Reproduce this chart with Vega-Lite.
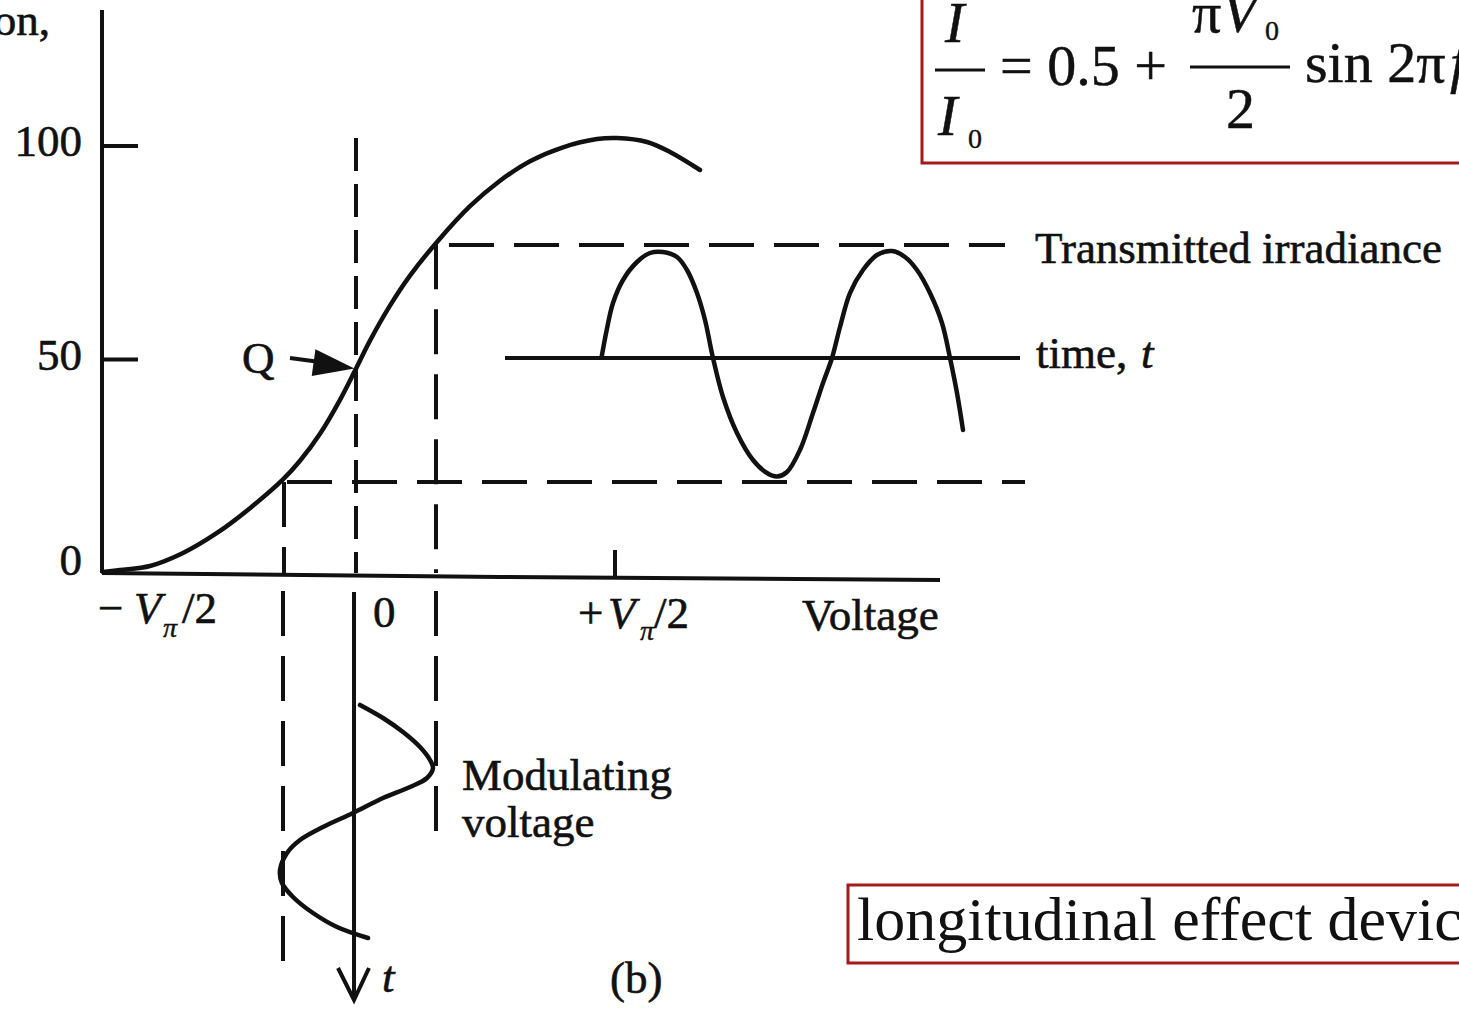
{
  "$schema": "https://vega.github.io/schema/vega-lite/v6.json",
  "width": 1459,
  "height": 1009,
  "padding": 0,
  "autosize": {"type": "none"},
  "background": "white",
  "config": {"view": {"stroke": null}},
  "datasets": {
    "boxes": [
      {"id": "formula", "v": 2.1808, "v2": 4.4, "T": 136.5, "T2": 96.02},
      {"id": "caption", "v": 1.8962, "v2": 4.4, "T": -73.07, "T2": -91.33}
    ],
    "bars": [
      {"id": "ratio", "v": 2.2308, "v2": 2.4231, "T": 117.8},
      {"id": "amp", "v": 3.2115, "v2": 3.5962, "T": 118.5}
    ],
    "straight": [
      {"id": "yaxis", "i": 0, "v": -0.9731, "T": 131.85},
      {"id": "yaxis", "i": 1, "v": -0.9731, "T": 0},
      {"id": "xaxis", "i": 0, "v": -0.9731, "T": 0},
      {"id": "xaxis", "i": 1, "v": 0.5577, "T": -0.94},
      {"id": "xaxis", "i": 2, "v": 2.25, "T": -1.64},
      {"id": "tick100", "i": 0, "v": -0.9731, "T": 100},
      {"id": "tick100", "i": 1, "v": -0.8346, "T": 100},
      {"id": "tick50", "i": 0, "v": -0.9731, "T": 50},
      {"id": "tick50", "i": 1, "v": -0.8346, "T": 50},
      {"id": "tickV", "i": 0, "v": 1.0, "T": 5.39},
      {"id": "tickV", "i": 1, "v": 1.0, "T": -1.0},
      {"id": "timeline", "i": 0, "v": 0.5769, "T": 50.35},
      {"id": "timeline", "i": 1, "v": 2.5577, "T": 50.35},
      {"id": "qshaft", "i": 0, "v": -0.25, "T": 50.35},
      {"id": "qshaft", "i": 1, "v": -0.1346, "T": 49.41},
      {"id": "tshaft", "i": 0, "v": -0.0038, "T": -4.45},
      {"id": "tshaft", "i": 1, "v": -0.0038, "T": -99.5},
      {"id": "thead", "i": 0, "v": -0.0654, "T": -92.51},
      {"id": "thead", "i": 1, "v": -0.0038, "T": -100.0},
      {"id": "thead", "i": 2, "v": 0.0538, "T": -92.51}
    ],
    "curves": [
      {"id": "transfer", "i": 0, "v": -0.9692, "T": 0.23},
      {"id": "transfer", "i": 1, "v": -0.9038, "T": 0.7},
      {"id": "transfer", "i": 2, "v": -0.7885, "T": 1.64},
      {"id": "transfer", "i": 3, "v": -0.6615, "T": 4.68},
      {"id": "transfer", "i": 4, "v": -0.5308, "T": 9.37},
      {"id": "transfer", "i": 5, "v": -0.4038, "T": 15.18},
      {"id": "transfer", "i": 6, "v": -0.2769, "T": 21.9},
      {"id": "transfer", "i": 7, "v": -0.2115, "T": 26.28},
      {"id": "transfer", "i": 8, "v": -0.1346, "T": 32.6},
      {"id": "transfer", "i": 9, "v": -0.0577, "T": 40.56},
      {"id": "transfer", "i": 10, "v": 0.0, "T": 47.4},
      {"id": "transfer", "i": 11, "v": 0.0577, "T": 54.43},
      {"id": "transfer", "i": 12, "v": 0.1346, "T": 62.62},
      {"id": "transfer", "i": 13, "v": 0.2115, "T": 69.65},
      {"id": "transfer", "i": 14, "v": 0.3154, "T": 77.52},
      {"id": "transfer", "i": 15, "v": 0.4423, "T": 85.9},
      {"id": "transfer", "i": 16, "v": 0.5577, "T": 91.87},
      {"id": "transfer", "i": 17, "v": 0.6731, "T": 96.44},
      {"id": "transfer", "i": 18, "v": 0.8, "T": 99.7},
      {"id": "transfer", "i": 19, "v": 0.9308, "T": 101.62},
      {"id": "transfer", "i": 20, "v": 1.0077, "T": 101.87},
      {"id": "transfer", "i": 21, "v": 1.1231, "T": 100.94},
      {"id": "transfer", "i": 22, "v": 1.2115, "T": 98.59},
      {"id": "transfer", "i": 23, "v": 1.3269, "T": 94.38},

      {"id": "output", "i": 0, "v": 0.9488, "T": 50.66},
      {"id": "output", "i": 1, "v": 0.9681, "T": 56.91},
      {"id": "output", "i": 2, "v": 0.9923, "T": 63.23},
      {"id": "output", "i": 3, "v": 1.0308, "T": 68.62},
      {"id": "output", "i": 4, "v": 1.0846, "T": 72.83},
      {"id": "output", "i": 5, "v": 1.1346, "T": 74.94},
      {"id": "output", "i": 6, "v": 1.1846, "T": 75.18},
      {"id": "output", "i": 7, "v": 1.2385, "T": 74.0},
      {"id": "output", "i": 8, "v": 1.2769, "T": 70.96},
      {"id": "output", "i": 9, "v": 1.3154, "T": 65.57},
      {"id": "output", "i": 10, "v": 1.3462, "T": 59.25},
      {"id": "output", "i": 11, "v": 1.3769, "T": 50.35},
      {"id": "output", "i": 12, "v": 1.4154, "T": 41.22},
      {"id": "output", "i": 13, "v": 1.4692, "T": 32.79},
      {"id": "output", "i": 14, "v": 1.5308, "T": 26.46},
      {"id": "output", "i": 15, "v": 1.5846, "T": 23.42},
      {"id": "output", "i": 16, "v": 1.6231, "T": 22.6},
      {"id": "output", "i": 17, "v": 1.6615, "T": 23.65},
      {"id": "output", "i": 18, "v": 1.7115, "T": 28.81},
      {"id": "output", "i": 19, "v": 1.7615, "T": 37.47},
      {"id": "output", "i": 20, "v": 1.8, "T": 44.5},
      {"id": "output", "i": 21, "v": 1.8346, "T": 50.35},
      {"id": "output", "i": 22, "v": 1.8654, "T": 57.61},
      {"id": "output", "i": 23, "v": 1.9038, "T": 65.57},
      {"id": "output", "i": 24, "v": 1.9538, "T": 70.96},
      {"id": "output", "i": 25, "v": 2.0077, "T": 74.47},
      {"id": "output", "i": 26, "v": 2.0654, "T": 75.41},
      {"id": "output", "i": 27, "v": 2.1154, "T": 74.0},
      {"id": "output", "i": 28, "v": 2.1615, "T": 70.96},
      {"id": "output", "i": 29, "v": 2.2115, "T": 65.57},
      {"id": "output", "i": 30, "v": 2.2577, "T": 58.55},
      {"id": "output", "i": 31, "v": 2.2885, "T": 50.35},
      {"id": "output", "i": 32, "v": 2.3154, "T": 42.15},
      {"id": "output", "i": 33, "v": 2.3385, "T": 33.49},

      {"id": "modulating", "i": 0, "v": 0.0192, "T": -30.91},
      {"id": "modulating", "i": 1, "v": 0.1077, "T": -33.96},
      {"id": "modulating", "i": 2, "v": 0.1846, "T": -37.24},
      {"id": "modulating", "i": 3, "v": 0.25, "T": -40.75},
      {"id": "modulating", "i": 4, "v": 0.2885, "T": -43.79},
      {"id": "modulating", "i": 5, "v": 0.3, "T": -45.67},
      {"id": "modulating", "i": 6, "v": 0.2769, "T": -48.01},
      {"id": "modulating", "i": 7, "v": 0.2115, "T": -50.12},
      {"id": "modulating", "i": 8, "v": 0.1077, "T": -52.69},
      {"id": "modulating", "i": 9, "v": -0.0077, "T": -56.21},
      {"id": "modulating", "i": 10, "v": -0.1231, "T": -59.48},
      {"id": "modulating", "i": 11, "v": -0.2115, "T": -62.53},
      {"id": "modulating", "i": 12, "v": -0.2615, "T": -65.57},
      {"id": "modulating", "i": 13, "v": -0.2885, "T": -69.56},
      {"id": "modulating", "i": 14, "v": -0.2808, "T": -72.6},
      {"id": "modulating", "i": 15, "v": -0.2385, "T": -75.88},
      {"id": "modulating", "i": 16, "v": -0.1615, "T": -79.63},
      {"id": "modulating", "i": 17, "v": -0.0692, "T": -82.9},
      {"id": "modulating", "i": 18, "v": 0.05, "T": -85.48}
    ],
    "dashed": [
      {"id": "top", "i": 0, "v": 0.3615, "T": 76.81},
      {"id": "top", "i": 1, "v": 2.5, "T": 76.81},
      {"id": "bottom", "i": 0, "v": -0.2615, "T": 21.31},
      {"id": "bottom", "i": 1, "v": 2.5769, "T": 21.31},
      {"id": "right1", "i": 0, "v": 0.3115, "T": 77.0},
      {"id": "right1", "i": 1, "v": 0.3115, "T": 0},
      {"id": "right2", "i": 0, "v": 0.3115, "T": -4.22},
      {"id": "right2", "i": 1, "v": 0.3115, "T": -63.23},
      {"id": "left1", "i": 0, "v": -0.2731, "T": 21.31},
      {"id": "left1", "i": 1, "v": -0.2731, "T": 0},
      {"id": "left2", "i": 0, "v": -0.2769, "T": -4.22},
      {"id": "left2", "i": 1, "v": -0.2769, "T": -95.55}
    ],
    "qline": [
      {"id": "q", "i": 0, "v": 0.0038, "T": 101.87},
      {"id": "q", "i": 1, "v": 0.0038, "T": 0}
    ],
    "qhead": [
      {"id": "q", "v": -0.0808, "T": 48.59}
    ],
    "labelsRight": [
      {"label": "Transmission,", "v": -1.1731, "T": 126.0},
      {"label": "100", "v": -1.05, "T": 97.66},
      {"label": "50", "v": -1.05, "T": 47.54},
      {"label": "0", "v": -1.05, "T": -0.47}
    ],
    "labels": [
      {"label": "−", "v": -0.9885, "T": -11.71},
      {"label": "/2", "v": -0.6654, "T": -11.71},
      {"label": "0", "v": 0.0692, "T": -12.65},
      {"label": "+", "v": 0.8577, "T": -12.88},
      {"label": "/2", "v": 1.15, "T": -12.88},
      {"label": "Voltage", "v": 1.7192, "T": -13.35},
      {"label": "Transmitted irradiance", "v": 2.6154, "T": 72.6},
      {"label": "time,", "v": 2.6192, "T": 48.01},
      {"label": "Q", "v": -0.4346, "T": 46.84},
      {"label": "Modulating", "v": 0.4115, "T": -50.82},
      {"label": "voltage", "v": 0.4115, "T": -61.83},
      {"label": "(b)", "v": 0.9808, "T": -98.36}
    ],
    "labelsItalic": [
      {"label": "V", "v": -0.85, "T": -11.71},
      {"label": "V", "v": 0.9731, "T": -12.88},
      {"label": "t", "v": 3.0231, "T": 48.01},
      {"label": "t", "v": 0.1038, "T": -98.13}
    ],
    "labelsSub": [
      {"label": "π", "v": -0.7385, "T": -14.99},
      {"label": "π", "v": 1.0962, "T": -15.69}
    ],
    "formula": [
      {"label": "= 0.5 +", "v": 2.4808, "T": 114.29},
      {"label": "π", "v": 3.2192, "T": 126.7},
      {"label": "2", "v": 3.35, "T": 104.22},
      {"label": "sin 2π", "v": 3.6538, "T": 114.99}
    ],
    "formulaItalic": [
      {"label": "I", "v": 2.2692, "T": 124.36},
      {"label": "I", "v": 2.2423, "T": 102.58},
      {"label": "V", "v": 3.3346, "T": 126.7},
      {"label": "ft", "v": 4.2115, "T": 114.99}
    ],
    "formulaSub": [
      {"label": "0", "v": 2.3577, "T": 99.53},
      {"label": "0", "v": 3.5, "T": 124.82}
    ],
    "caption": [
      {"label": "longitudinal effect device", "v": 1.9308, "T": -85.95}
    ]
  },
  "encoding": {
    "x": {"field": "v", "type": "quantitative", "scale": {"domain": [-1.3654, 4.2462], "nice": false, "zero": false}, "axis": null},
    "y": {"field": "T", "type": "quantitative", "scale": {"domain": [-102.11, 134.19], "nice": false, "zero": false}, "axis": null}
  },
  "layer": [
    {
      "data": {"name": "boxes"},
      "mark": {"type": "rect", "fill": "white", "stroke": "#a31a1a", "strokeWidth": 3},
      "encoding": {"x2": {"field": "v2"}, "y2": {"field": "T2"}}
    },
    {
      "data": {"name": "bars"},
      "mark": {"type": "rule", "color": "#111", "strokeWidth": 3},
      "encoding": {"x2": {"field": "v2"}}
    },
    {
      "data": {"name": "straight"},
      "mark": {"type": "line", "color": "#111", "strokeWidth": 4, "strokeCap": "butt", "strokeJoin": "miter"},
      "encoding": {"detail": {"field": "id"}, "order": {"field": "i", "type": "quantitative"}}
    },
    {
      "data": {"name": "curves"},
      "mark": {"type": "line", "color": "#111", "strokeWidth": 4.5, "strokeCap": "round", "interpolate": "catmull-rom"},
      "encoding": {"detail": {"field": "id"}, "order": {"field": "i", "type": "quantitative"}}
    },
    {
      "data": {"name": "dashed"},
      "mark": {"type": "line", "color": "#111", "strokeWidth": 4, "strokeDash": [45, 20]},
      "encoding": {"detail": {"field": "id"}, "order": {"field": "i", "type": "quantitative"}}
    },
    {
      "data": {"name": "qline"},
      "mark": {"type": "line", "color": "#111", "strokeWidth": 4, "strokeDash": [33, 13]},
      "encoding": {"detail": {"field": "id"}, "order": {"field": "i", "type": "quantitative"}}
    },
    {
      "data": {"name": "qhead"},
      "mark": {"type": "point", "shape": "M-1,-0.65L1,0L-1,0.65Z", "size": 1700, "angle": 8, "filled": true, "color": "#111", "opacity": 1}
    },
    {
      "data": {"name": "labelsRight"},
      "mark": {"type": "text", "align": "right", "baseline": "alphabetic", "font": "Liberation Serif", "fontSize": 45, "color": "#111", "stroke": "#111", "strokeWidth": 0.6},
      "encoding": {"text": {"field": "label"}}
    },
    {
      "data": {"name": "labels"},
      "mark": {"type": "text", "align": "left", "baseline": "alphabetic", "font": "Liberation Serif", "fontSize": 45, "color": "#111", "stroke": "#111", "strokeWidth": 0.6},
      "encoding": {"text": {"field": "label"}}
    },
    {
      "data": {"name": "labelsItalic"},
      "mark": {"type": "text", "align": "left", "baseline": "alphabetic", "font": "Liberation Serif", "fontStyle": "italic", "fontSize": 45, "color": "#111", "stroke": "#111", "strokeWidth": 0.6},
      "encoding": {"text": {"field": "label"}}
    },
    {
      "data": {"name": "labelsSub"},
      "mark": {"type": "text", "align": "left", "baseline": "alphabetic", "font": "Liberation Serif", "fontStyle": "italic", "fontSize": 28, "color": "#111", "stroke": "#111", "strokeWidth": 0.4},
      "encoding": {"text": {"field": "label"}}
    },
    {
      "data": {"name": "formula"},
      "mark": {"type": "text", "align": "left", "baseline": "alphabetic", "font": "Liberation Serif", "fontSize": 58, "color": "#111", "stroke": "#111", "strokeWidth": 0.5},
      "encoding": {"text": {"field": "label"}}
    },
    {
      "data": {"name": "formulaItalic"},
      "mark": {"type": "text", "align": "left", "baseline": "alphabetic", "font": "Liberation Serif", "fontStyle": "italic", "fontSize": 58, "color": "#111", "stroke": "#111", "strokeWidth": 0.5},
      "encoding": {"text": {"field": "label"}}
    },
    {
      "data": {"name": "formulaSub"},
      "mark": {"type": "text", "align": "left", "baseline": "alphabetic", "font": "Liberation Serif", "fontSize": 28, "color": "#111", "stroke": "#111", "strokeWidth": 0.4},
      "encoding": {"text": {"field": "label"}}
    },
    {
      "data": {"name": "caption"},
      "mark": {"type": "text", "align": "left", "baseline": "alphabetic", "font": "Liberation Serif", "fontSize": 62, "color": "#111"},
      "encoding": {"text": {"field": "label"}}
    }
  ]
}
